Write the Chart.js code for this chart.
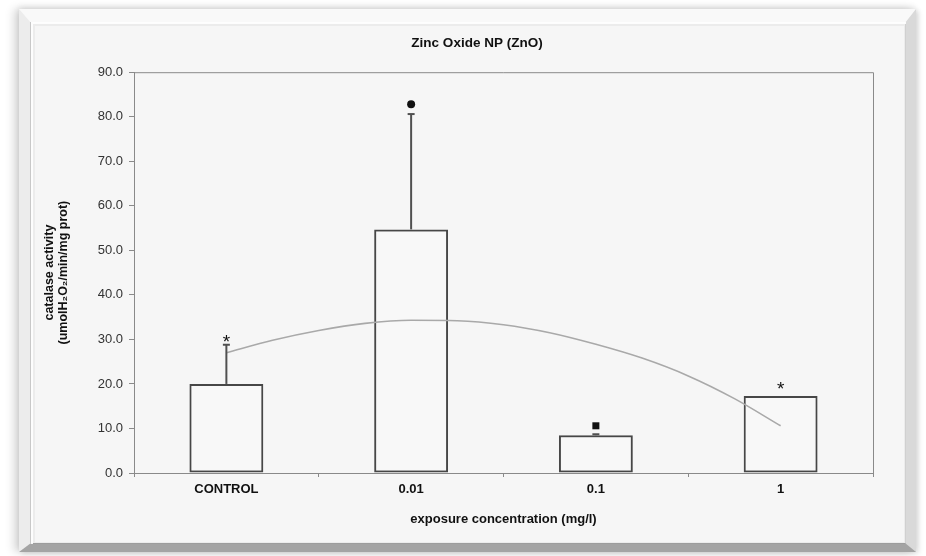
<!DOCTYPE html>
<html>
<head>
<meta charset="utf-8">
<script src="https://cdn.jsdelivr.net/npm/chart.js@4/dist/chart.umd.min.js"></script>
<style>
  html, body { margin: 0; padding: 0; background: #ffffff; width: 926px; height: 556px; overflow: hidden; }
  .panel {
    position: absolute; left: 19px; top: 9px; width: 897px; height: 543px;
    box-sizing: border-box;
    background: #f6f6f6;
    border-style: solid;
    border-width: 14px 11px 9px 12px;
    border-color: #f9f9f9 #d9d9d9 #a4a4a4 #ececec;
    box-shadow: -5px 0 9px rgba(0,0,0,0.16), 0 -2px 6px rgba(0,0,0,0.08), 3px 2px 5px rgba(0,0,0,0.10);
  }
  .panel::after {
    content: ""; position: absolute; left: -1px; top: -1px; right: -1px; bottom: -1px;
    box-shadow: inset 2px 2px 0 rgba(255,255,255,0.9), inset 1px 1px 0 3px rgba(0,0,0,0.04);
    border-left: 1px solid #c8c8c8;
  }
  #chart { position: absolute; left: 0; top: 0; }
</style>
</head>
<body>
<div class="panel"></div>
<canvas id="chart" width="926" height="556"></canvas>
<script>
// Catalase activity by ZnO exposure concentration
const categories   = ['CONTROL', '0.01', '0.1', '1'];
const catalaseMean = [20.0, 54.7, 8.5, 17.3];
const catalaseSE   = [8.8, 25.9, 0.2, 0.0];

// significance symbols and the level they sit at
const markSymbols = ['*', '●', '■', '*'];
const markLevel   = [30.2, 82.8, 10.6, 19.6];

// polynomial trend curve, positions in category units (0 = CONTROL)
const trendX = [0, 0.25, 0.5, 0.75, 1, 1.25, 1.5, 1.75, 2, 2.25, 2.5, 2.75, 3];
const trendY = [27.0, 29.8, 32.0, 33.6, 34.3, 34.2, 33.3, 31.5, 28.9, 25.8, 21.8, 16.7, 10.6];

// value axis ticks
const yTickMin = 0, yTickMax = 90, yTickStep = 10;

const FONT = "'Liberation Sans', Arial, Helvetica, sans-serif";
Chart.defaults.font.family = FONT;

const axisGrey = '#8a8a8a';

// outline the plot area (top and right edges; axes supply the other two)
const plotFrame = {
  id: 'plotFrame',
  beforeDatasetsDraw(chart) {
    const { ctx, chartArea: a } = chart;
    ctx.save();
    ctx.strokeStyle = axisGrey;
    ctx.lineWidth = 1;
    ctx.beginPath();
    ctx.moveTo(a.left, a.top + 0.5);
    ctx.lineTo(a.right + 0.5, a.top + 0.5);
    ctx.lineTo(a.right + 0.5, a.bottom);
    ctx.stroke();
    ctx.restore();
  }
};

// upper standard-error whiskers and significance symbols
const barExtras = {
  id: 'barExtras',
  afterDatasetsDraw(chart) {
    const { ctx } = chart;
    const y = chart.scales.y;
    const bars = chart.getDatasetMeta(0).data;
    ctx.save();
    bars.forEach((bar, i) => {
      const x = bar.x;
      const se = catalaseSE[i];
      if (se > 0) {
        const yBar = y.getPixelForValue(catalaseMean[i]);
        const yErr = y.getPixelForValue(catalaseMean[i] + se);
        ctx.strokeStyle = '#505050';
        ctx.lineWidth = 2;
        ctx.beginPath();
        ctx.moveTo(x, yBar);
        ctx.lineTo(x, yErr);
        ctx.stroke();
        ctx.beginPath();
        ctx.moveTo(x - 3.5, yErr);
        ctx.lineTo(x + 3.5, yErr);
        ctx.stroke();
      }
      const ym = y.getPixelForValue(markLevel[i]);
      const sym = markSymbols[i];
      ctx.fillStyle = '#111';
      if (sym === '●') {
        ctx.beginPath();
        ctx.arc(x, ym, 4, 0, Math.PI * 2);
        ctx.fill();
      } else if (sym === '■') {
        ctx.fillRect(x - 3.5, ym - 3.5, 7, 7);
      } else {
        ctx.font = '19px ' + FONT;
        ctx.textAlign = 'center';
        ctx.textBaseline = 'alphabetic';
        const m = ctx.measureText(sym);
        ctx.fillText(sym, x, ym + (m.actualBoundingBoxAscent - m.actualBoundingBoxDescent) / 2);
      }
    });
    ctx.restore();
  }
};

// place the chart title over the centre of the panel
const titleCenterX = 477;
const titlePlacement = {
  id: 'titlePlacement',
  afterLayout(chart) {
    const tb = chart.titleBlock;
    if (!tb) return;
    const shift = titleCenterX - (tb.left + tb.right) / 2;
    tb.left += shift;
    tb.right += shift;
  }
};

new Chart(document.getElementById('chart'), {
  type: 'bar',
  data: {
    labels: categories,
    datasets: [
      {
        label: 'catalase activity',
        data: catalaseMean,
        backgroundColor: 'rgba(255,255,255,0.25)',
        borderColor: '#474747',
        borderWidth: 2,
        borderSkipped: false,
        grouped: false,
        barPercentage: 0.4,
        categoryPercentage: 1.0,
        order: 2
      },
      {
        type: 'line',
        label: 'trend',
        xAxisID: 'xt',
        data: trendX.map((v, i) => ({ x: v, y: trendY[i] })),
        borderColor: '#a9a9a9',
        borderWidth: 1.6,
        pointRadius: 0,
        fill: false,
        cubicInterpolationMode: 'monotone',
        order: 1
      }
    ]
  },
  options: {
    responsive: false,
    devicePixelRatio: 1,
    animation: false,
    layout: { padding: { left: 43, top: 35, right: 53, bottom: 29 } },
    plugins: {
      legend: { display: false },
      tooltip: { enabled: false },
      title: {
        display: true,
        text: 'Zinc Oxide NP (ZnO)',
        color: '#111',
        font: { size: 13.5, weight: 'bold', lineHeight: 1.2 },
        padding: { top: 0, bottom: 21 }
      }
    },
    scales: {
      x: {
        type: 'category',
        offset: true,
        border: { display: true, color: axisGrey, width: 1 },
        grid: { display: true, offset: true, drawOnChartArea: false, drawTicks: true, tickLength: 4, color: axisGrey },
        ticks: { color: '#111', font: { size: 13, weight: 'bold' }, padding: 5 },
        title: {
          display: true,
          text: 'exposure concentration (mg/l)',
          color: '#111',
          font: { size: 13, weight: 'bold', lineHeight: 1.2 },
          padding: { top: 0, bottom: 0 }
        },
        afterFit(scale) { scale.height = 54; }
      },
      xt: {
        type: 'linear',
        display: false,
        offset: false,
        min: -0.5,
        max: 3.5
      },
      y: {
        min: yTickMin,
        max: yTickMax,
        border: { display: true, color: axisGrey, width: 1 },
        grid: { display: true, drawOnChartArea: false, drawTicks: true, tickLength: 5, color: axisGrey },
        ticks: {
          stepSize: yTickStep,
          color: '#333',
          font: { size: 13 },
          padding: 6,
          callback: (v) => Number(v).toFixed(1)
        },
        title: {
          display: true,
          text: ['catalase activity', '(umolH₂O₂/min/mg prot)'],
          color: '#111',
          font: { size: 12.5, weight: 'bold', lineHeight: 1.12 },
          padding: { top: 0, bottom: 0 }
        },
        afterFit(scale) { scale.width = 91; }
      }
    }
  },
  plugins: [plotFrame, barExtras, titlePlacement]
});
</script>
</body>
</html>
